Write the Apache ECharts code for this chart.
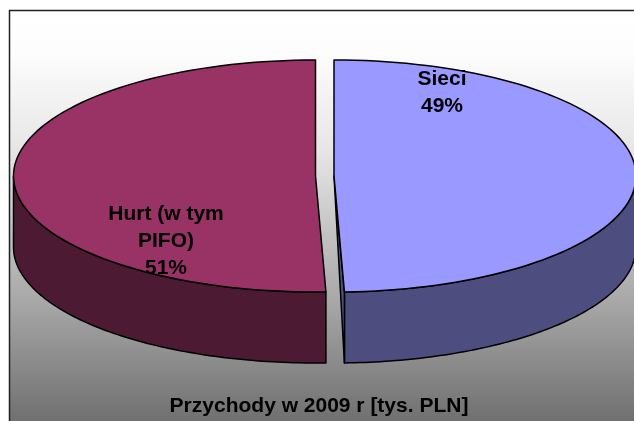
<!DOCTYPE html>
<html>
<head>
<meta charset="utf-8">
<style>
html, body { margin: 0; padding: 0; background: #fff; }
#main { width: 634px; height: 421px; }
</style>
<script src="https://cdn.jsdelivr.net/npm/echarts@6/dist/echarts.min.js"></script>
</head>
<body>
<div id="main"></div>
<script>
var categories = ['Sieci', 'Hurt (w tym\nPIFO)'];
var values = [49.45, 50.55];
var percentLabels = ['49%', '51%'];
var titleText = 'Przychody w 2009 r [tys. PLN]';

var topColors = ['#9999ff', '#993366'];
var sideColors = ['#4d4d80', '#4d1a33'];

// pie geometry
var centers = [[334, 176], [315.5, 176]];
var rx = 302, ry = 116, depth = 71;
var labelPos = [[442, 66], [166, 201]];
var labelFont = 'bold 21px "Liberation Sans", Arial, sans-serif';

function pt(c, a, dy) {
    return [c[0] + rx * Math.sin(a), c[1] - ry * Math.cos(a) + (dy || 0)];
}

function arc(c, a0, a1, dy) {
    var list = [];
    var steps = 90;
    for (var i = 0; i <= steps; i++) {
        list.push(pt(c, a0 + (a1 - a0) * i / steps, dy));
    }
    return list;
}

function poly(points, fill) {
    return {
        type: 'polygon',
        shape: { points: points },
        style: { fill: fill, stroke: '#000', lineWidth: 1.5, lineJoin: 'round' }
    };
}

function renderSlice(params, api) {
    var i = params.dataIndex;
    var total = values[0] + values[1];
    var start = 0;
    for (var k = 0; k < i; k++) start += values[k];
    var a0 = start / total * Math.PI * 2;
    var a1 = (start + api.value(0)) / total * Math.PI * 2;
    var c = centers[i];
    var children = [];

    // outer wall, only the part facing the viewer
    var w0 = Math.max(a0, Math.PI / 2);
    var w1 = Math.min(a1, Math.PI * 1.5);
    var wallTop = arc(c, w0, w1, 0);
    var wallBottom = arc(c, w1, w0, depth);
    children.push(poly(wallTop.concat(wallBottom), sideColors[i]));

    // cut face of the slice on the right
    if (i === 0) {
        children.push(poly([[c[0], c[1]], pt(c, a1, 0), pt(c, a1, depth)], sideColors[i]));
    }

    children.push(poly([c].concat(arc(c, a0, a1, 0)), topColors[i]));

    children.push({
        type: 'text',
        style: {
            text: categories[i] + '\n' + percentLabels[i],
            x: labelPos[i][0],
            y: labelPos[i][1],
            align: 'center',
            verticalAlign: 'top',
            font: labelFont,
            lineHeight: 27,
            fill: '#000'
        },
        z2: 10
    });
    return { type: 'group', children: children };
}

var chart = echarts.init(document.getElementById('main'), null, { renderer: 'canvas' });
chart.setOption({
    animation: false,
    backgroundColor: '#fff',
    title: {
        text: titleText,
        left: 314,
        top: 391,
        textAlign: 'center',
        textStyle: {
            fontFamily: '"Liberation Sans", Arial, sans-serif',
            fontWeight: 'bold',
            fontSize: 21,
            color: '#000'
        }
    },
    graphic: [{
        type: 'rect',
        silent: true,
        z: -1,
        shape: { x: 9.5, y: 10.5, width: 640, height: 430 },
        style: {
            stroke: '#222',
            lineWidth: 1.5,
            fill: new echarts.graphic.LinearGradient(0, 0, 0, 1, [
                { offset: 0, color: '#ffffff' },
                { offset: 0.1, color: '#fdfdfd' },
                { offset: 0.326, color: '#e6e6e6' },
                { offset: 0.535, color: '#c0c0c0' },
                { offset: 0.674, color: '#a8a8a8' },
                { offset: 0.953, color: '#707070' },
                { offset: 1, color: '#6c6c6c' }
            ])
        }
    }],
    series: [{
        type: 'custom',
        coordinateSystem: 'none',
        silent: true,
        clip: false,
        renderItem: renderSlice,
        data: values
    }]
});
</script>
</body>
</html>
